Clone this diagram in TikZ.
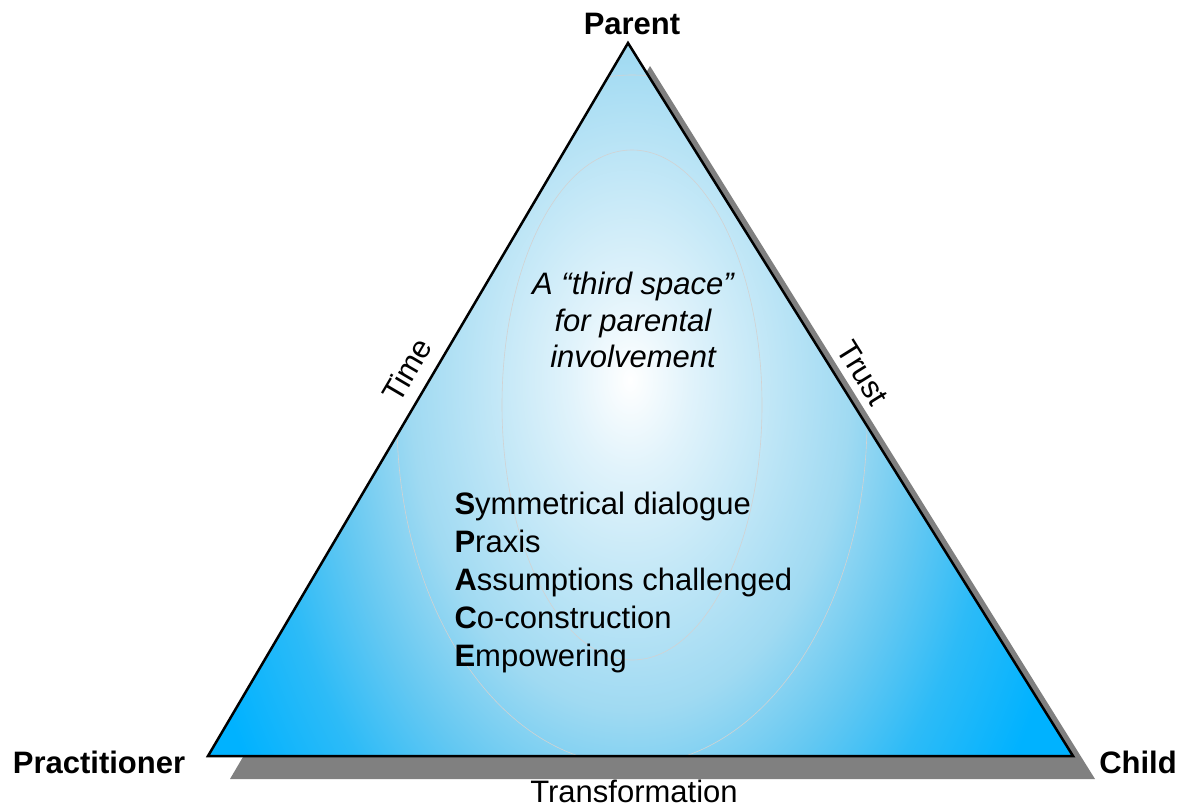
\documentclass[tikz,border=0pt]{standalone}
\usepackage{fontspec}
\setmainfont{Liberation Sans}
\definecolor{shadowgray}{RGB}{128,128,128}
\definecolor{deepblue}{RGB}{0,178,255}
\definecolor{midblue}{RGB}{45,187,247}
\definecolor{softblue}{RGB}{100,200,242}
\definecolor{paleblue}{RGB}{160,218,242}
\definecolor{whiteblue}{RGB}{225,243,251}
\pgfdeclareradialshading{tri}{\pgfpoint{0bp}{0bp}}{%
  color(0bp)=(white); color(3bp)=(whiteblue); color(11bp)=(paleblue);
  color(15bp)=(softblue); color(18.5bp)=(midblue); color(23bp)=(deepblue); color(50bp)=(deepblue)}
\tikzset{
  corner/.style={font=\fontsize{31}{36}\selectfont\bfseries, anchor=base},
  side/.style={font=\fontsize{31}{36}\selectfont, anchor=base},
  midtext/.style={font=\fontsize{31}{37}\selectfont\itshape, anchor=base},
  listtext/.style={font=\fontsize{31}{38}\selectfont, anchor=base west},
  faint/.style={draw=gray!35, line width=0.6pt}
}
\begin{document}
\begin{tikzpicture}[x=1pt,y=-1pt]
\useasboundingbox (0,0) rectangle (1194,806);
% corners
\coordinate (P) at (628,43);
\coordinate (L) at (208,756);
\coordinate (R) at (1073,756);
% shadow
\fill[shadowgray] ([shift={(22,23)}]P) -- ([shift={(22,23)}]R) -- ([shift={(22,23)}]L) -- cycle;
% fill
\begin{scope}
  \clip (P) -- (R) -- (L) -- cycle;
  \fill[deepblue] (P) -- (R) -- (L) -- cycle;
  \shade[shading=tri] (130,-370) rectangle (1130,1130);
  \draw[faint] (632,405) ellipse [x radius=130, y radius=255];
  \draw[faint] (632,420) ellipse [x radius=235, y radius=345];
\end{scope}
\draw[line width=2.5pt, line join=miter] (P) -- (R) -- (L) -- cycle;
% labels
\node[corner] (parent) at (632,34) {Parent};
\node[corner] (pract) at (99,773) {Practitioner};
\node[corner] (child) at (1138,773) {Child};
\node[side] (transf) at (634,802) {Transformation};
\node[font=\fontsize{31}{36}\selectfont, rotate=59.5] (time) at (407,370) {Time};
\node[font=\fontsize{31}{36}\selectfont, rotate=-58] (trust) at (863,373) {Trust};
% middle text
\node[midtext] (m1) at (633,294) {A “third space”};
\node[midtext] (m2) at (633,331) {for parental};
\node[midtext] (m3) at (633,367) {involvement};
% SPACE list
\node[listtext] (s1) at (451,514) {\textbf{S}ymmetrical dialogue};
\node[listtext] (s2) at (451,552) {\textbf{P}raxis};
\node[listtext] (s3) at (451,590) {\textbf{A}ssumptions challenged};
\node[listtext] (s4) at (451,628) {\textbf{C}o-construction};
\node[listtext] (s5) at (451,666) {\textbf{E}mpowering};
\end{tikzpicture}
\end{document}
